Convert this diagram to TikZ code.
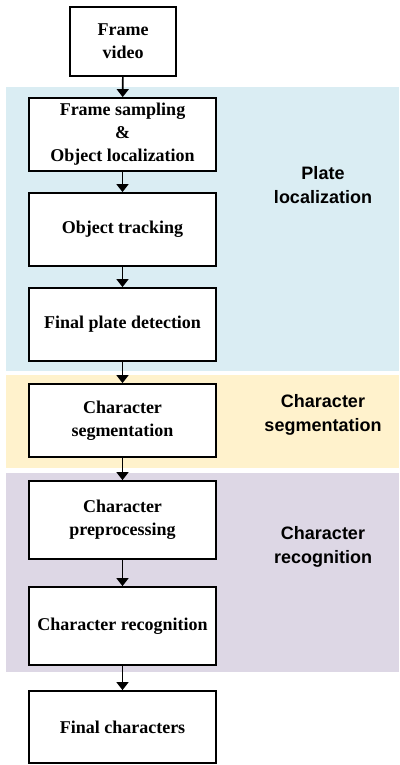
\documentclass[tikz,border=0pt]{standalone}
\usepackage{fontspec}
\setmainfont{Liberation Serif}
\newfontfamily\labelfont{Liberation Sans}
\usetikzlibrary{arrows.meta}
\definecolor{bandblue}{HTML}{DAEDF3}
\definecolor{bandyellow}{HTML}{FFF2CC}
\definecolor{bandpurple}{HTML}{DDD7E5}
\tikzset{
  stagebox/.style = {
    draw, line width=1.8pt, fill=white,
    minimum width=187pt, align=center,
    font=\fontsize{18}{23}\selectfont\bfseries, inner sep=0pt
  },
  flow/.style = {line width=1.6pt, -{Triangle[width=12pt,length=8pt]}},
  bandlabel/.style = {align=center, font=\labelfont\fontsize{18}{24}\selectfont\bfseries}
}

\begin{document}
\begin{tikzpicture}[x=1pt,y=-1pt]
\useasboundingbox (0,0) rectangle (399,765);
% coloured bands
\fill[bandblue]   (6,87)  rectangle (399,371);
\fill[bandyellow] (6,375) rectangle (399,468);
\fill[bandpurple] (6,473) rectangle (399,672);
\node[bandlabel] (lplate) at (323,185) {Plate\\localization};
\node[bandlabel] (lseg)   at (323,415) {Character\\segmentation};
\node[bandlabel] (lrec)   at (323,547) {Character\\recognition};
% processing stages
\node[stagebox, minimum width=106pt, minimum height=69pt] (video) at (123,41.5) {Frame\\video};
\node[stagebox, minimum height=73pt] (sampling) at (122.5,134.5) {Frame sampling\\\&\\Object localization};
\node[stagebox, minimum height=73pt] (tracking) at (122.5,229.5) {Object tracking};
\node[stagebox, minimum height=73pt] (plate)    at (122.5,324.5) {Final plate detection};
\node[stagebox, minimum height=73pt] (segment)  at (122.5,420.5) {Character\\segmentation};
\node[stagebox, minimum height=78pt] (preproc)  at (122.5,520)   {Character\\preprocessing};
\node[stagebox, minimum height=78pt] (recog)    at (122.5,626)   {Character recognition};
\node[stagebox, minimum height=72pt] (chars)    at (122.5,727)   {Final characters};
% connectors
\draw[flow] (video)    -- (sampling);
\draw[flow] (sampling) -- (tracking);
\draw[flow] (tracking) -- (plate);
\draw[flow] (plate)    -- (segment);
\draw[flow] (segment)  -- (preproc);
\draw[flow] (preproc)  -- (recog);
\draw[flow] (recog)    -- (chars);
\end{tikzpicture}
\end{document}
